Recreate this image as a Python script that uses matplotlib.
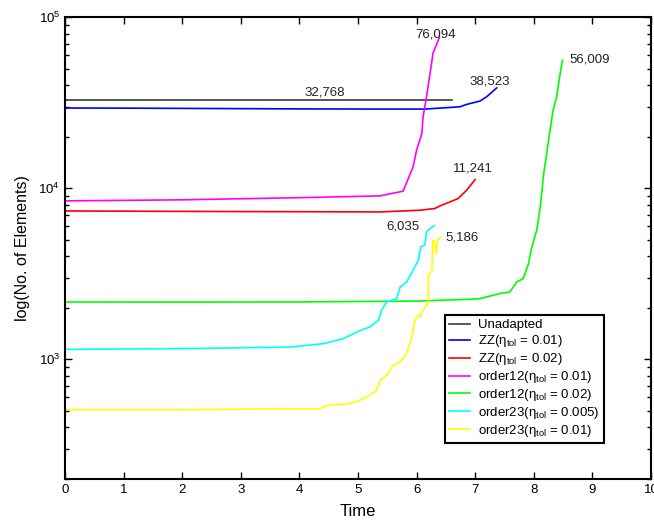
import matplotlib
matplotlib.use("Agg")
import matplotlib.pyplot as plt
from matplotlib.ticker import LogLocator, NullFormatter

plt.rcParams['font.family'] = ['Liberation Sans', 'DejaVu Sans']
plt.rcParams['mathtext.fontset'] = 'custom'
plt.rcParams['mathtext.rm'] = 'Liberation Sans'
plt.rcParams['mathtext.it'] = 'Liberation Sans:italic'
plt.rcParams['mathtext.bf'] = 'Liberation Sans:bold'

# Element counts over time for each mesh strategy
unadapted_t = [0, 6.6]
unadapted_n = [32768, 32768]

zz01_t = [0, 1.0, 2.5, 4.0, 5.375, 6.14, 6.74, 6.855, 7.08, 7.196, 7.367]
zz01_n = [29400, 29350, 29200, 29050, 28980, 28980, 29880, 30870, 32270, 34200, 38523]

zz02_t = [0, 1.5, 3.0, 4.5, 5.375, 6.06, 6.31, 6.40, 6.57, 6.71, 6.855, 7.0]
zz02_n = [7360, 7330, 7300, 7280, 7265, 7433, 7606, 7880, 8317, 8707, 9734, 11241]

o12_01_t = [0, 0, 2.0, 4.0, 5.375, 5.77, 5.94, 6.00, 6.09, 6.11, 6.16, 6.23, 6.28, 6.39]
o12_01_n = [7100, 8430, 8550, 8800, 9015, 9605, 13320, 16680, 20890, 26120, 32700, 46880, 61400, 76094]

o12_02_t = [0, 0, 2.0, 4.0, 6.0, 6.91, 7.08, 7.42, 7.59, 7.71, 7.82, 7.91, 7.96, 8.05,
            8.11, 8.17, 8.26, 8.33, 8.39, 8.45, 8.49]
o12_02_n = [1891, 2163, 2160, 2165, 2190, 2244, 2263, 2422, 2475, 2832, 2965, 3630, 4440, 5680,
            7775, 12190, 19950, 28590, 34190, 46850, 56009]

o23_005_t = [0, 0, 2.0, 3.84, 4.41, 4.75, 4.98, 5.20, 5.35, 5.40, 5.49, 5.66, 5.72, 5.83,
             5.94, 6.03, 6.07, 6.14, 6.17, 6.23, 6.30]
o23_005_n = [563, 1144, 1155, 1180, 1235, 1322, 1444, 1545, 1691, 1934, 2163, 2264, 2648, 2832,
             3315, 3793, 4538, 4643, 5552, 5812, 6035]

o23_01_t = [0, 0, 0, 2.0, 3.84, 4.35, 4.47, 4.86, 5.03, 5.20, 5.32, 5.375, 5.49, 5.60, 5.72,
            5.83, 5.92, 5.97, 6.03, 6.06, 6.09, 6.17, 6.20, 6.20, 6.26, 6.28, 6.31, 6.34,
            6.35, 6.39, 6.41]
o23_01_n = [464, 560, 508, 508, 515, 515, 539, 551, 576, 616, 659, 754, 806, 922, 964,
            1080, 1349, 1691, 1808, 1766, 1891, 2070, 2213, 3097, 3242, 4966, 4770, 4169,
            4966, 5080, 5186]

labels = ['Unadapted',
          r'ZZ($\mathrm{\eta_{tol}}$ = 0.01)',
          r'ZZ($\mathrm{\eta_{tol}}$ = 0.02)',
          r'order12($\mathrm{\eta_{tol}}$ = 0.01)',
          r'order12($\mathrm{\eta_{tol}}$ = 0.02)',
          r'order23($\mathrm{\eta_{tol}}$ = 0.005)',
          r'order23($\mathrm{\eta_{tol}}$ = 0.01)']
colors = ['#3a3a3a', '#0000ff', '#ff0000', '#ff00ff', '#00ff00', '#00ffff', '#ffff00']
series = [(unadapted_t, unadapted_n), (zz01_t, zz01_n), (zz02_t, zz02_n),
          (o12_01_t, o12_01_n), (o12_02_t, o12_02_n), (o23_005_t, o23_005_n),
          (o23_01_t, o23_01_n)]

# Final-count annotations: (text, x, y, horizontal alignment)
notes = [('32,768', 4.44, 36420, 'center'),
         ('76,094', 6.33, 79300, 'center'),
         ('38,523', 6.90, 41830, 'left'),
         ('56,009', 8.60, 56560, 'left'),
         ('11,241', 6.62, 13030, 'left'),
         ('6,035', 5.49, 5938, 'left'),
         ('5,186', 6.50, 5118, 'left')]

fig = plt.figure(figsize=(6.54, 5.24), dpi=100)
ax = fig.add_axes([65/654, 45/524, 586/654, 462/524])

for (t, n), c, lab in zip(series, colors, labels):
    ax.plot(t, n, color=c, lw=1.2, label=lab)

for txt, x, y, ha in notes:
    ax.text(x, y, txt, ha=ha, va='center', fontsize=9.5, color='#222222')

ax.set_yscale('log')
ax.set_xlim(0, 10)
ax.set_ylim(200, 1e5)
ax.set_xticks(range(0, 11))
ax.yaxis.set_minor_locator(LogLocator(base=10, subs=range(2, 10)))
ax.yaxis.set_minor_formatter(NullFormatter())

ax.tick_params(which='both', direction='in', top=True, right=True, labelsize=9.5, width=1)
ax.tick_params(which='major', length=5)
ax.tick_params(which='minor', length=3)
for s in ax.spines.values():
    s.set_linewidth(1.5)

ax.set_xlabel('Time', fontsize=12, labelpad=6)
ax.set_ylabel('log(No. of Elements)', fontsize=11.5, labelpad=6)

leg = ax.legend(loc='upper left', bbox_to_anchor=(0.6485, 0.355), borderaxespad=0,
                fontsize=9.5, fancybox=False, framealpha=1, edgecolor='black',
                handlelength=1.6, handletextpad=0.6, labelspacing=0.15,
                borderpad=0.3)
leg.get_frame().set_linewidth(1.5)

fig.savefig('out.png', dpi=100)
